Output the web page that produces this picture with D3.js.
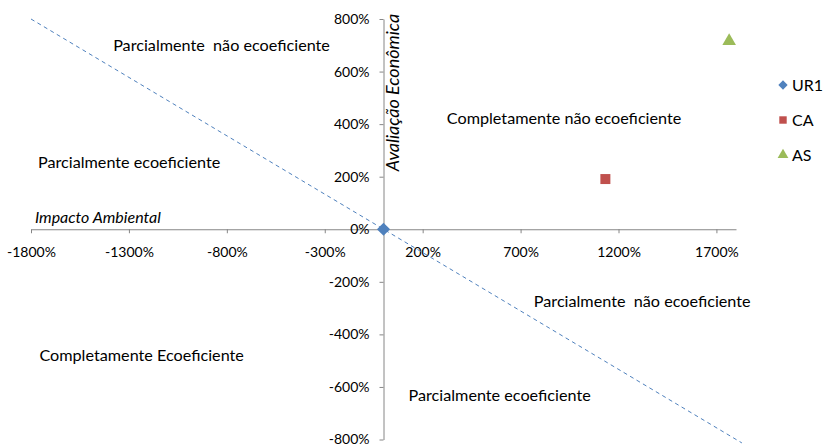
<!DOCTYPE html>
<html>
<head>
<meta charset="utf-8">
<script src="https://cdn.jsdelivr.net/npm/d3@7"></script>
<style>
  html, body { margin: 0; padding: 0; background: #fff; }
  svg { display: block; font-family: Lato, "Liberation Sans", sans-serif; }
</style>
</head>
<body>
<svg id="chart" width="827" height="446"></svg>
<script>
// Series: [impacto ambiental %, avaliação econômica %]
const seriesNames = ["UR1", "CA", "AS"];
const seriesX = [0, 1133, 1765];
const seriesY = [0, 191, 716];
const seriesColors = ["#4F81BD", "#C0504D", "#9BBB59"];
const seriesShapes = [d3.symbolDiamond2, d3.symbolSquare, d3.symbolTriangle];

// Axis ticks
const xTicks = [-1800, -1300, -800, -300, 200, 700, 1200, 1700];
const yTicks = [-800, -600, -400, -200, 0, 200, 400, 600, 800];

// Dividing line (ecoeficiência boundary)
const boundaryX = [-1800, 1830];
const boundaryY = [800, -813];

// Quadrant labels and where they sit in data space
const regionLabels = [
  "Parcialmente\u00a0\u00a0não ecoeficiente",
  "Parcialmente ecoeficiente",
  "Completamente não ecoeficiente",
  "Parcialmente\u00a0\u00a0não ecoeficiente",
  "Completamente Ecoeficiente",
  "Parcialmente ecoeficiente"
];
const regionAnchorX = [-827, -1299, 922, 1321, -1235, 593];
const regionAnchorY = [678, 233, 400, -296, -501, -654];

const svg = d3.select("#chart");

const x = d3.scaleLinear().domain([-1800, 1800]).range([31, 736]);
const y = d3.scaleLinear().domain([-800, 800]).range([439.5, 19]);

const axisColor = "#868686";
const pct = d => d + "%";

// Horizontal axis through y = 0
const gx = svg.append("g")
  .attr("transform", `translate(0,${y(0)})`)
  .call(d3.axisBottom(x).tickValues(xTicks).tickFormat(pct).tickSize(4).tickSizeOuter(0));
gx.select(".domain").attr("stroke", axisColor);
gx.selectAll(".tick line").attr("stroke", axisColor);
gx.selectAll(".tick text")
  .attr("fill", "#000").attr("font-size", 14).attr("font-family", "Lato")
  .attr("y", 18).attr("dy", "0.71em");

// Vertical axis through x = 0
const gy = svg.append("g")
  .attr("transform", `translate(${x(0)},0)`)
  .call(d3.axisLeft(y).tickValues(yTicks).tickFormat(pct).tickSize(4).tickSizeOuter(0));
gy.select(".domain").attr("stroke", axisColor);
gy.selectAll(".tick line").attr("stroke", axisColor);
gy.selectAll(".tick text")
  .attr("fill", "#000").attr("font-size", 14).attr("font-family", "Lato")
  .attr("x", -14);

// Axis titles
svg.append("text")
  .attr("x", x(-1780)).attr("y", y(0) - 6)
  .attr("font-style", "italic").attr("font-size", 16)
  .text("Impacto Ambiental");

svg.append("text")
  .attr("transform", `translate(${x(0) + 15},${y(520)}) rotate(-90)`)
  .attr("text-anchor", "middle")
  .attr("font-style", "italic").attr("font-size", 18)
  .text("Avaliação Econômica");

// Boundary line
svg.append("line")
  .attr("x1", x(boundaryX[0])).attr("y1", y(boundaryY[0]))
  .attr("x2", x(boundaryX[1])).attr("y2", y(boundaryY[1]))
  .attr("stroke", "#4F81BD").attr("stroke-width", 1)
  .attr("stroke-dasharray", "4,3.5");

// Quadrant labels
svg.append("g").selectAll("text")
  .data(regionLabels)
  .join("text")
  .attr("x", (d, i) => x(regionAnchorX[i]))
  .attr("y", (d, i) => y(regionAnchorY[i]))
  .attr("text-anchor", "middle")
  .attr("font-size", 16.2)
  .text(d => d);

// Points
const points = seriesNames.map((n, i) => ({ name: n, x: seriesX[i], y: seriesY[i], color: seriesColors[i], shape: seriesShapes[i] }));
const symbolSize = [110, 100, 80];

svg.append("g").selectAll("path")
  .data(points)
  .join("path")
  .attr("transform", d => `translate(${x(d.x)},${y(d.y)})`)
  .attr("d", (d, i) => d3.symbol(d.shape, symbolSize[i])())
  .attr("fill", d => d.color);

// Legend
const legend = svg.append("g").attr("transform", "translate(783,85)");
const item = legend.selectAll("g")
  .data(points)
  .join("g")
  .attr("transform", (d, i) => `translate(0,${i * 35})`);
item.append("path")
  .attr("d", (d, i) => d3.symbol(d.shape, [55, 55, 50][i])())
  .attr("fill", d => d.color);
item.append("text")
  .attr("x", 9).attr("dy", "0.36em")
  .attr("font-size", 16)
  .text(d => d.name);
</script>
</body>
</html>
